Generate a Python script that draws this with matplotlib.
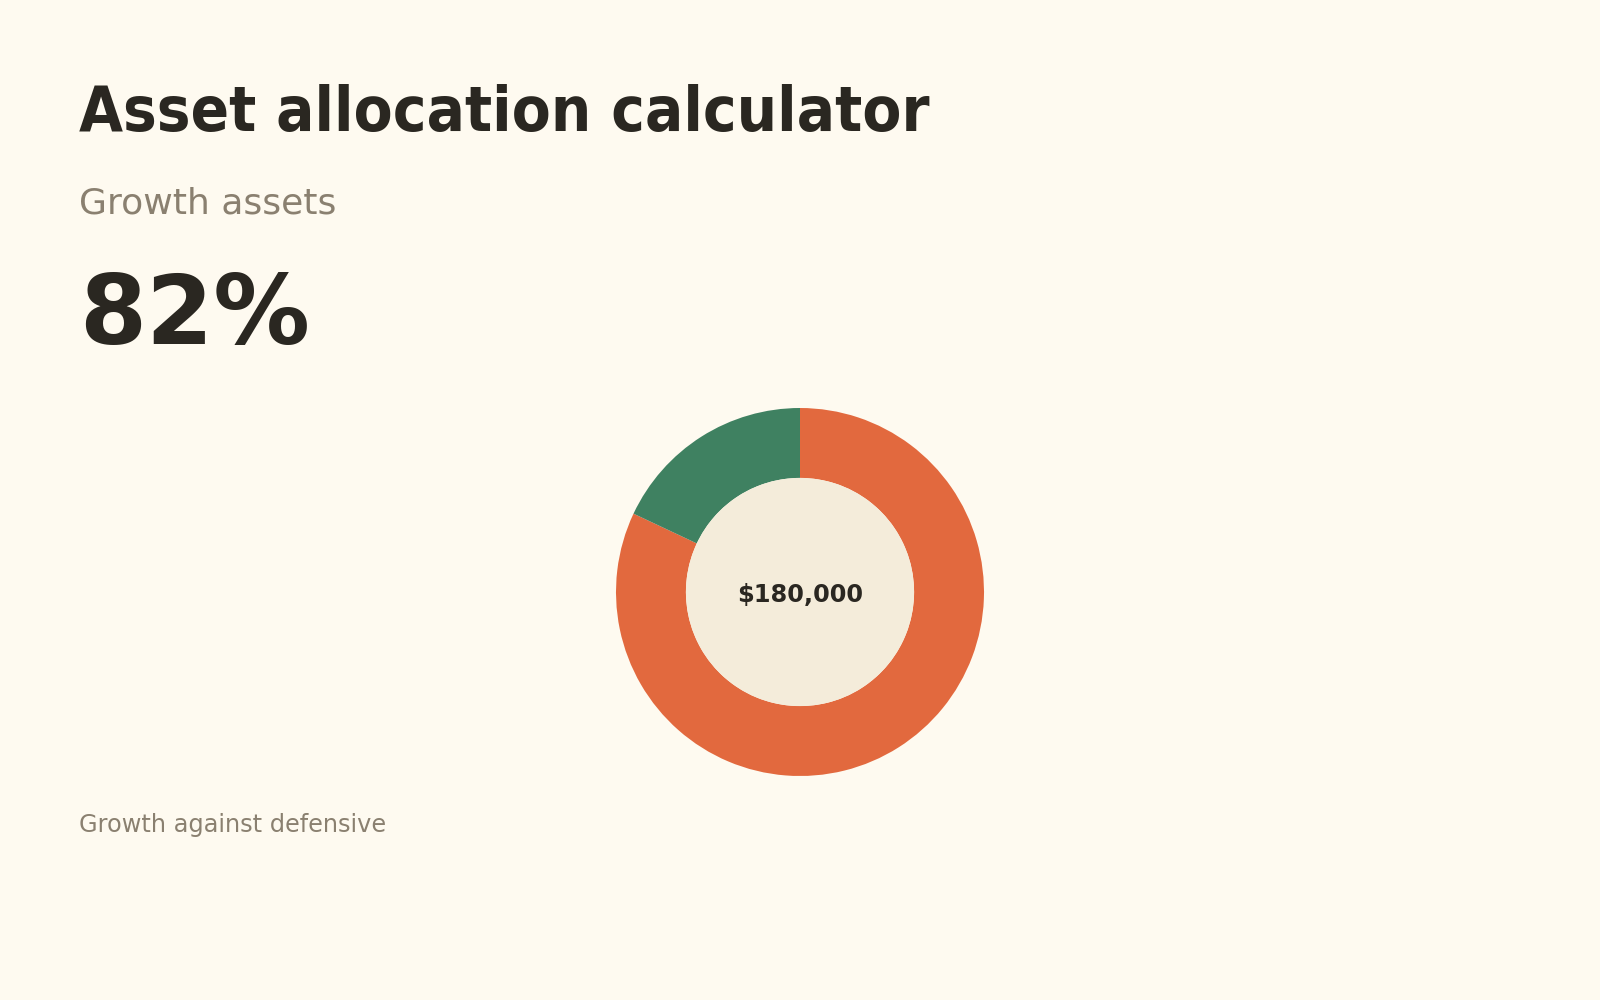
import matplotlib
matplotlib.use("Agg")
import matplotlib.pyplot as plt
from matplotlib.patches import Circle

# chart data
labels = ["Growth", "Defensive"]
shares = [82, 18]
total_value = 180000

BG = "#FEFAF0"
INK = "#2A2721"
MUTED = "#8A8070"
SLICE_COLORS = ["#E2693E", "#3F8161"]
HOLE = "#F4ECDA"

W, H = 1600, 1000

plt.rcParams["font.family"] = ["DejaVu Sans"]
fig = plt.figure(figsize=(W / 100, H / 100), dpi=100, facecolor=BG)


def px(x, y):
    return x / W, 1 - y / H


# header block
fig.text(*px(79, 131.5), "Asset allocation calculator", fontsize=45.5,
         fontweight="bold", fontstretch="condensed", color=INK,
         ha="left", va="baseline")
fig.text(*px(79, 213), "Growth assets", fontsize=26, color=MUTED,
         ha="left", va="baseline")
fig.text(*px(79, 344), f"{shares[0]}%", fontsize=69.5, fontweight="bold",
         color=INK, ha="left", va="baseline")
fig.text(*px(79, 832), "Growth against defensive", fontsize=17.3,
         color=MUTED, ha="left", va="baseline")

# donut
cx, cy, r = 800, 592, 184
ax = fig.add_axes([(cx - r) / W, 1 - (cy + r) / H, 2 * r / W, 2 * r / H])
ax.set_facecolor("none")
ax.pie(shares, colors=SLICE_COLORS, startangle=90, counterclock=False,
       radius=1, wedgeprops=dict(width=0.38, linewidth=0))
ax.add_patch(Circle((0, 0), 0.62, facecolor=HOLE, edgecolor="none"))
ax.set_xlim(-1, 1)
ax.set_ylim(-1, 1)
ax.set_aspect("equal")
ax.axis("off")

fig.text(*px(cx, 602), f"${total_value:,}", ha="center", va="baseline",
         fontsize=17.3, fontweight="bold", color=INK)

fig.savefig("out.png", dpi=100, facecolor=BG)
